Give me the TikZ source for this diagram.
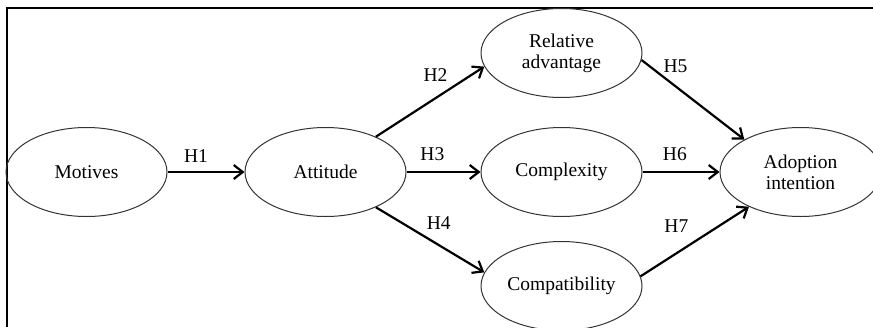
\documentclass[tikz,border=0pt]{standalone}
\usepackage{fontspec}
\setmainfont{Liberation Serif}
\usetikzlibrary{arrows.meta, positioning, shapes.geometric}

\begin{document}
\begin{tikzpicture}[
      x=1pt, y=-1pt,
      node distance=24pt and 77pt,
      construct/.style={ellipse, draw=black!80, line width=1pt, minimum width=161pt,
        minimum height=89pt, inner sep=0pt, align=center, font=\fontsize{19.5}{21}\selectfont},
      hyp/.style={->, line width=2.2pt},
      lbl/.style={font=\fontsize{19.5}{21}\selectfont, inner sep=2pt},
      >={Straight Barb[length=9pt,width=14pt]},
    ]
    \useasboundingbox (0,0) rectangle (873,327);
    \draw[line width=1.6pt] (7,327) -- (7,8) -- (873,8);

    \node[construct] (Att) at (325.5,172) {Attitude};
    \node[construct, left=of Att] (Mot) {Motives};
    \node[construct, right=74pt of Att] (Cplx) {Complexity};
    \node[construct, above=29pt of Cplx] (RA) {Relative\\advantage};
    \node[construct, below=of Cplx] (Cpat) {Compatibility};
    \node[construct, right=of Cplx] (AI) {Adoption\\intention};

    \draw[hyp] (Mot) -- node[lbl, above=6pt, pos=0.37] {H1} (Att);
    \draw[hyp] (Att.35) -- node[lbl, above=14pt, pos=0.55] {H2} (RA.190);
    \draw[hyp] (Att) -- node[lbl, above=8pt, pos=0.35] {H3} (Cplx);
    \draw[hyp] (Att.-35) -- node[lbl, above=12pt, pos=0.58] {H4} (Cpat.170);
    \draw[hyp] (RA.-5) -- node[lbl, above=10pt, pos=0.33] {H5} (AI.150);
    \draw[hyp] (Cplx) -- node[lbl, above=8pt, pos=0.42] {H6} (AI);
    \draw[hyp] (Cpat.7) -- node[lbl, above=18pt, pos=0.33] {H7} (AI.214);
  \end{tikzpicture}
\end{document}
